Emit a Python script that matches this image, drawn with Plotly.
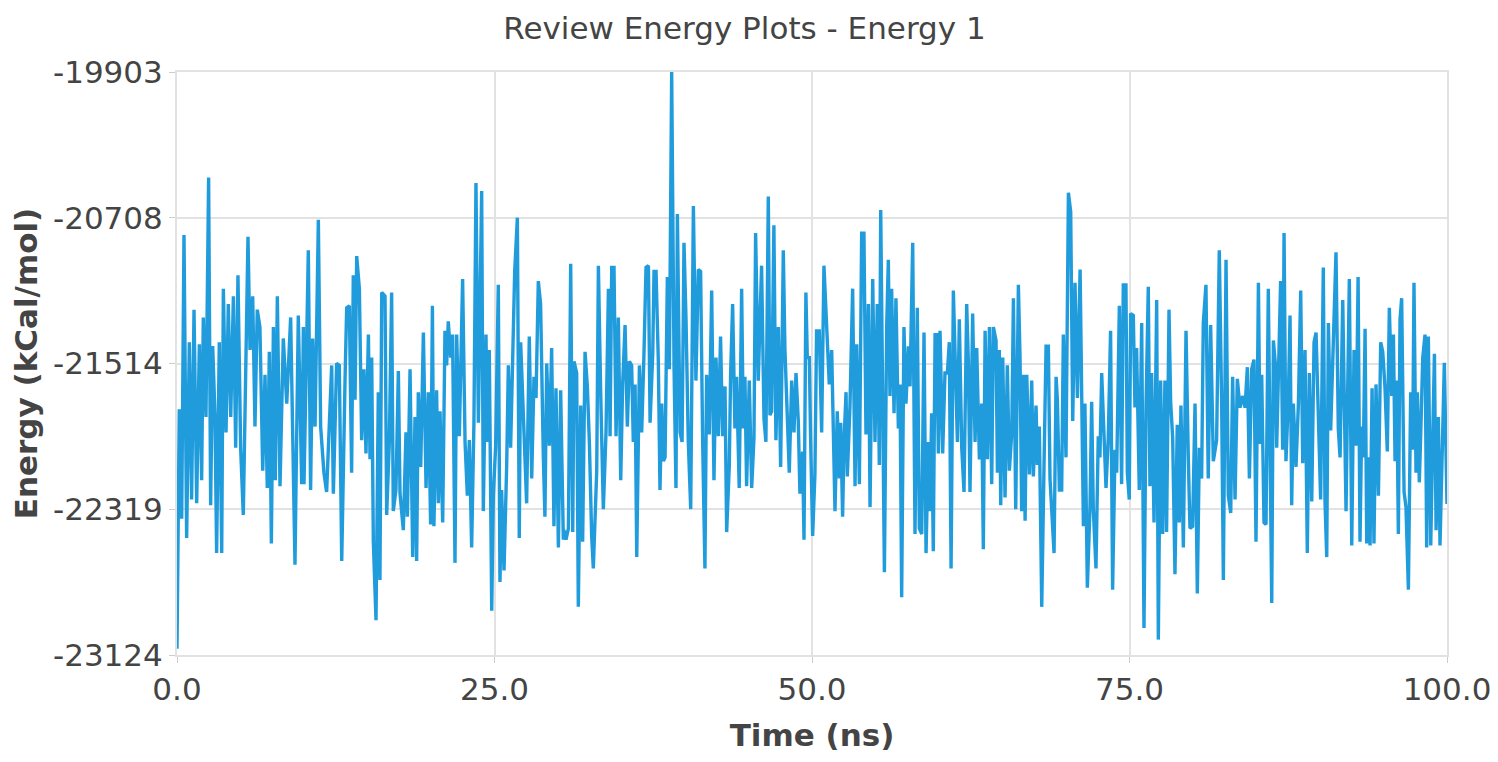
import plotly.graph_objects as go

# Time (ns) and energy (kCal/mol)
time_ns = [
    0.00, 0.18, 0.37, 0.55, 0.76, 0.97, 1.15, 1.34, 1.55, 1.76, 1.94, 2.07, 2.28, 2.49, 2.65, 2.81,
    2.99, 3.12, 3.33, 3.52, 3.65, 3.86, 4.04, 4.23, 4.44, 4.62, 4.80, 5.01, 5.22, 5.59, 5.75, 5.96,
    6.14, 6.32, 6.53, 6.75, 6.93, 7.11, 7.27, 7.43, 7.59, 7.74, 7.90, 8.11, 8.37, 8.64, 8.95, 9.29,
    9.55, 9.82, 9.95,
    10.00, 10.21, 10.34, 10.52, 10.68, 10.87, 11.13, 11.31, 11.57, 11.78, 11.99, 12.18, 12.31, 12.57,
    12.78, 12.97, 13.23, 13.36, 13.57, 13.75, 13.88, 14.02, 14.15, 14.36, 14.54, 14.72, 14.88, 15.07,
    15.20, 15.33, 15.46, 15.67, 15.85, 15.98, 16.12, 16.38, 16.51, 16.72, 16.90, 17.03, 17.24, 17.43,
    17.56, 17.82, 18.03, 18.14, 18.35, 18.56, 18.74, 18.87, 19.00, 19.19, 19.40, 19.61, 19.79, 19.97,
    20.11,
    20.23, 20.44, 20.58, 20.71, 20.92, 21.10, 21.23, 21.36, 21.55, 21.70, 21.89, 22.02, 22.23, 22.49,
    22.68, 22.86, 23.02, 23.20, 23.38, 23.54, 23.73, 23.99, 24.12, 24.33, 24.43, 24.59, 24.78, 24.91,
    25.09, 25.30, 25.43, 25.56, 25.75, 25.96, 26.09, 26.27, 26.43, 26.59, 26.80, 26.95, 27.06, 27.27,
    27.40, 27.53, 27.74, 27.93, 28.11, 28.27, 28.45, 28.63, 28.84, 28.97, 29.11, 29.32, 29.50, 29.68,
    29.84, 30.03, 30.21, 30.42,
    30.47, 30.63, 30.82, 31.00, 31.16, 31.26, 31.47, 31.60, 31.79, 31.94, 32.13, 32.31, 32.47, 32.65,
    32.78, 33.05, 33.18, 33.36, 33.57, 33.78, 33.97, 34.10, 34.23, 34.41, 34.57, 34.75, 34.94, 35.09,
    35.28, 35.46, 35.62, 35.80, 35.93, 36.07, 36.20, 36.41, 36.59, 36.77, 36.93, 37.12, 37.25, 37.46,
    37.56, 37.72, 37.90, 38.03, 38.17, 38.30, 38.43, 38.61, 38.77, 38.95, 39.14, 39.29, 39.40, 39.61,
    39.77, 39.92, 40.08, 40.26, 40.45, 40.66,
    40.86, 41.05, 41.23, 41.39, 41.57, 41.70, 41.91, 42.10, 42.28, 42.44, 42.62, 42.80, 42.96, 43.15,
    43.28, 43.49, 43.59, 43.75, 43.93, 44.06, 44.27, 44.46, 44.59, 44.72, 44.85, 45.06, 45.25, 45.43,
    45.56, 45.77, 45.90, 46.03, 46.22, 46.37, 46.56, 46.69, 46.82, 47.00, 47.16, 47.35, 47.53, 47.74,
    47.87, 48.00, 48.21, 48.40, 48.58, 48.74, 48.92, 49.05, 49.26, 49.37, 49.52, 49.63, 49.79, 49.89,
    50.05, 50.23, 50.36, 50.57, 50.76, 50.94,
    51.36, 51.55, 51.68, 51.81, 51.99, 52.15, 52.26, 52.41, 52.52, 52.68, 52.78, 52.99, 53.20, 53.39,
    53.52, 53.73, 53.91, 54.09, 54.25, 54.44, 54.57, 54.78, 54.96, 55.14, 55.30, 55.41, 55.56, 55.70,
    55.88, 56.01, 56.14, 56.27, 56.46, 56.61, 56.80, 56.93, 57.06, 57.24, 57.40, 57.59, 57.72, 57.93,
    58.11, 58.29, 58.45, 58.64, 58.82, 58.98, 59.16, 59.29, 59.42, 59.55, 59.69, 59.82, 59.95, 60.08,
    60.29, 60.47, 60.66, 60.81, 60.95, 61.13,
    61.45, 61.60, 61.79, 61.97, 62.18, 62.31, 62.44, 62.65, 62.84, 62.97, 63.18, 63.36, 63.49, 63.63,
    63.81, 63.97, 64.15, 64.28, 64.49, 64.60, 64.75, 64.86, 65.02, 65.20, 65.38, 65.54, 65.73, 65.86,
    66.04, 66.25, 66.38, 66.51, 66.64, 66.78, 66.91, 67.12, 67.30, 67.43, 67.64, 67.75, 67.90, 68.09,
    68.27, 68.43, 68.61, 68.74, 68.88, 69.06, 69.22, 69.32, 69.48, 69.66, 69.79, 70.00, 70.19, 70.37,
    70.53, 70.71, 70.90, 71.11, 71.24, 71.37,
    71.49, 71.68, 71.89, 72.02, 72.15, 72.36, 72.54, 72.67, 72.81, 72.99, 73.15, 73.33, 73.51, 73.67,
    73.86, 73.99, 74.20, 74.38, 74.51, 74.72, 74.83, 74.98, 75.09, 75.30, 75.43, 75.56, 75.77, 75.96,
    76.14, 76.30, 76.48, 76.61, 76.74, 76.93, 77.14, 77.27, 77.45, 77.61, 77.79, 77.92, 78.11, 78.24,
    78.40, 78.58, 78.76, 78.92, 79.05, 79.24, 79.45, 79.63, 79.76, 79.97, 80.16, 80.34, 80.50, 80.68,
    80.81, 81.02, 81.20, 81.39, 81.60,
    81.86, 82.07, 82.26, 82.39, 82.60, 82.78, 82.97, 83.12, 83.31, 83.49, 83.70, 83.91, 84.10, 84.28,
    84.44, 84.62, 84.80, 84.96, 85.15, 85.28, 85.41, 85.59, 85.75, 85.93, 86.06, 86.20, 86.33, 86.48,
    86.59, 86.72, 86.90, 87.06, 87.17, 87.32, 87.51, 87.64, 87.77, 87.90, 88.11, 88.30, 88.48, 88.64,
    88.82, 89.00, 89.16, 89.35, 89.53, 89.69, 89.87, 90.05, 90.26, 90.39, 90.53, 90.66, 90.84, 91.05,
    91.26, 91.44, 91.58, 91.79,
    92.05, 92.15, 92.31, 92.50, 92.68, 92.84, 93.00, 93.15, 93.28, 93.41, 93.55, 93.68, 93.81, 93.94,
    94.10, 94.25, 94.41, 94.60, 94.78, 94.94, 95.12, 95.30, 95.46, 95.65, 95.78, 95.91, 96.04, 96.17,
    96.30, 96.43, 96.62, 96.77, 96.96, 97.14, 97.30, 97.40, 97.56, 97.67, 97.82, 97.93, 98.09, 98.27,
    98.40, 98.53, 98.72, 98.87, 99.01, 99.14, 99.32, 99.45, 99.58, 99.79, 100.00,
]

energy_kcal = [
    -23090, -21767, -22371, -20803, -22477, -21396, -22265, -21216, -22286, -21407, -22159, -21259, -21809, -20486, -22297, -21417,
    -21799, -22561, -21396, -22561, -21100, -21894, -21185, -21809, -21142, -21979, -21026, -21979, -22350, -20814, -21439, -21142,
    -21862, -21216, -21312, -22106, -21576, -22201, -21449, -22508, -21312, -22159, -21142, -22191, -21375, -21735, -21259, -22625,
    -21248, -22180, -21312,
    -22180, -21396, -20888, -22212, -21375, -21862, -20719, -21862, -22117, -22223, -21820, -21524, -22233, -21513,
    -21524, -22604, -21608, -21206, -21195, -22117, -21026, -21714, -20920, -21100, -21937, -21545, -22011, -21354,
    -22043, -21481, -22498, -22932, -21672, -22710, -21121, -21142, -22350, -21947, -21121, -22329, -22212, -21555,
    -22233, -22434, -21894, -22360, -21545, -22583, -21809, -22604, -21672, -22085, -21343, -22201, -21672, -22403,
    -21195,
    -22413, -21661, -22286, -21778, -22392, -21333, -21524, -21280, -21481, -21354, -22615, -21354, -21915, -21047,
    -21947, -22244, -21937, -22530, -21841, -20517, -21841, -20560, -22329, -21354, -21947, -21439, -22879, -22244,
    -21968, -21079, -22720, -22212, -22657, -22074, -21524, -21979, -21513, -21005, -20708, -22477, -21396, -21809,
    -22117, -22286, -21365, -22149, -21587, -21704, -21058, -21185, -22011, -22360, -21513, -21968, -21428, -22413,
    -21651, -22530, -21661, -22487,
    -22434, -22487, -22424, -20962, -22445, -21502, -21566, -22858, -21746, -22498, -21449, -21640, -21947, -22466,
    -22646, -22106, -20973, -21672, -22318, -21894, -21100, -21915, -20983, -20983, -21915, -21259, -22159, -21630,
    -21301, -21862, -21502, -21524, -21947, -21630, -22583, -21524, -21894, -21460, -20983, -20973, -21841, -21460,
    -21005, -21005, -21502, -22212, -21735, -22053, -22032, -21036, -21545, -19903, -21545, -22201, -20687, -21894,
    -21947, -20846, -21269, -21947, -22318, -20644,
    -21608, -20994, -21005, -21947, -22646, -21576, -21905, -21110, -22159, -21481, -21915, -21365, -21915, -21640,
    -22445, -22074, -21576, -21185, -21873, -21587, -22201, -21100, -21873, -21587, -22191, -21608, -22201, -21926,
    -20793, -21608, -21354, -20973, -21820, -21947, -20591, -21799, -21778, -20750, -21937, -21312, -22085, -20888,
    -21439, -21672, -22117, -21608, -21894, -21566, -21831, -22233, -22000, -22487, -21121, -21481, -21481, -21926,
    -22466, -22127, -21333, -21333, -21894, -20973,
    -21629, -21439, -21968, -22329, -21778, -22149, -21841, -22360, -21947, -21672, -22138, -21746, -21100, -22191,
    -21407, -22180, -20793, -20793, -21905, -21185, -22307, -21047, -21947, -21185, -22074, -20666, -21672, -22667,
    -21312, -20941, -21693, -21100, -21788, -21153, -21873, -21629, -22805, -21312, -21735, -21418, -21640, -20846,
    -22456, -21206, -22424, -22456, -21343, -22561, -21947, -22329, -21788, -22551, -21354, -21354, -22011, -21333,
    -22011, -21566, -21566, -21396, -22646, -21110,
    -21947, -21269, -21979, -22223, -21185, -21502, -22223, -21238, -21947, -21428, -22043, -21735, -22540, -21333,
    -22043, -21312, -22180, -21312, -21386, -22117, -21439, -22297, -21481, -22254, -21524, -22106, -21894, -21153,
    -22318, -21079, -21481, -22329, -21576, -22382, -21576, -22127, -21608, -22138, -21746, -22074, -21862, -22858,
    -22074, -21418, -21418, -22149, -22329, -22561, -21587, -21714, -22212, -22212, -21354, -22032, -20570, -20676,
    -21831, -21068, -21704, -20994, -21704, -22413,
    -21735, -22752, -22307, -21725, -22318, -22646, -21915, -22032, -21566, -21873, -22201, -21926, -21333, -22763,
    -21990, -22117, -21195, -22180, -21079, -21079, -22117, -22265, -21238, -21248, -21757, -21428, -22212, -21290,
    -22975, -21757, -21089, -22191, -21566, -22392, -21163, -23039, -21608, -22456, -21608, -22445, -21216, -21725,
    -21926, -22678, -21852, -22392, -21746, -22530, -21333, -22032, -22424, -22413, -21735, -22784, -21979, -22149,
    -21290, -21079, -22149, -21301, -22053,
    -21937, -20888, -21757, -22710, -20941, -22244, -22339, -21587, -22265, -21598, -21757, -21693, -21757, -21534,
    -22149, -21545, -21492, -22498, -21068, -21958, -21576, -22392, -22403, -21100, -21947, -22837, -21386, -21513,
    -21979, -21566, -21058, -21990, -20793, -22053, -21704, -21248, -22297, -21735, -22085, -21735, -21110, -22064,
    -21439, -22561, -21566, -22276, -21396, -21343, -21820, -22265, -20983, -22265, -22583, -21290, -21884, -21312,
    -20899, -21873, -22032, -21163,
    -22329, -21799, -21047, -22519, -21439, -21968, -21036, -22498, -21862, -22032, -21322, -22508, -22032, -22519,
    -21651, -22508, -21629, -22244, -21396, -21449, -21651, -22000, -21206, -21693, -21354, -22053, -21608, -22456,
    -21269, -21153, -22223, -22307, -22763, -21672, -21990, -21068, -22117, -21672, -22170, -21905, -21481, -21354,
    -22530, -21365, -22519, -21947, -21460, -22434, -21809, -22519, -22096, -21510, -22290,
]

y_ticks = [-19903, -20708, -21514, -22319, -23124]
x_ticks = [0, 25, 50, 75, 100]

line_color = "#209cdc"
grid_color = "#e2e2e2"
text_color = "#444444"
font_family = "DejaVu Sans, Verdana, sans-serif"

fig = go.Figure(
    go.Scatter(
        x=time_ns,
        y=energy_kcal,
        mode="lines",
        line=dict(color=line_color, width=3.4),
        name="Energy 1",
    )
)

fig.update_layout(
    width=1490,
    height=754,
    margin=dict(l=169, r=51, t=64, b=107),
    paper_bgcolor="white",
    plot_bgcolor="white",
    showlegend=False,
    font=dict(family=font_family, color=text_color),
    title=dict(
        text="Review Energy Plots - Energy 1",
        x=0.4943,
        xanchor="center",
        y=1 - 20 / 754,
        yanchor="middle",
        yref="container",
        font=dict(size=31, color=text_color, family=font_family),
    ),
)

fig.update_xaxes(
    range=[0, 100],
    tickvals=x_ticks,
    tickformat=".1f",
    automargin=False,
    ticklabeloverflow="allow",
    showgrid=True,
    gridcolor=grid_color,
    gridwidth=2,
    showline=True,
    linecolor=grid_color,
    linewidth=2,
    mirror=True,
    ticks="outside",
    ticklen=6,
    tickcolor="#cccccc",
    tickwidth=1,
    zeroline=False,
    tickfont=dict(size=31, color=text_color, family=font_family),
    title=dict(
        text="<b>Time (ns)</b>",
        font=dict(size=31, color=text_color, family=font_family),
        standoff=18,
    ),
)

fig.update_yaxes(
    range=[-23124, -19903],
    tickvals=y_ticks,
    ticktext=[str(v) for v in y_ticks],
    automargin=False,
    ticklabeloverflow="allow",
    showgrid=True,
    gridcolor=grid_color,
    gridwidth=2,
    showline=True,
    linecolor=grid_color,
    linewidth=2,
    mirror=True,
    ticks="outside",
    ticklen=6,
    tickcolor="#cccccc",
    tickwidth=1,
    zeroline=False,
    tickfont=dict(size=31, color=text_color, family=font_family),
    title=dict(
        text="<b>Energy (kCal/mol)</b>",
        font=dict(size=31, color=text_color, family=font_family),
        standoff=16,
    ),
)

fig.write_html("out.html")
